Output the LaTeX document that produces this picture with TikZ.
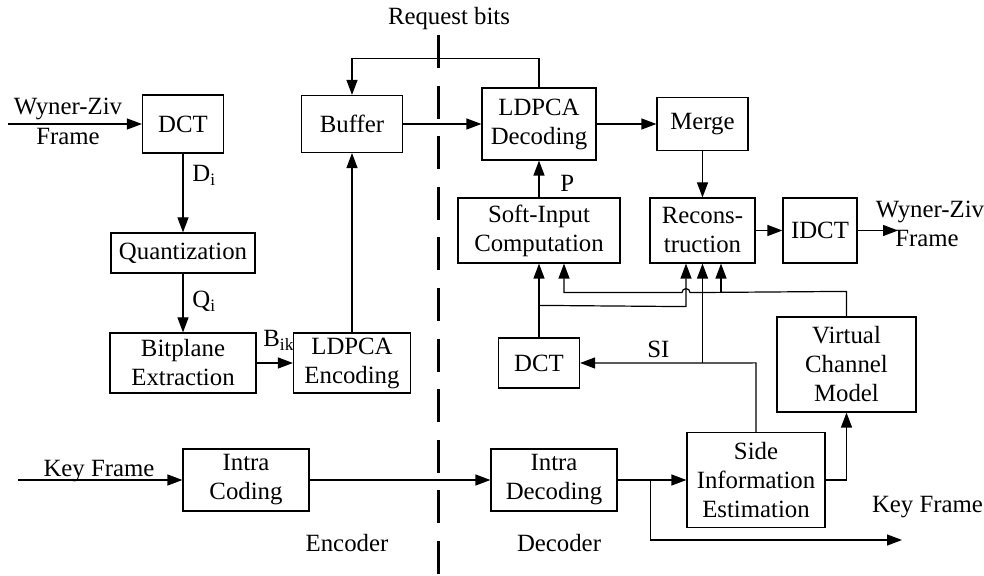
\documentclass[tikz,border=0pt]{standalone}
\usepackage{fontspec}
\setmainfont{Liberation Serif}
\usetikzlibrary{arrows.meta,calc}
\tikzset{
  blk/.style 2 args={draw,line width=0.6pt,align=center,inner sep=0pt,
    minimum width=#1*0.5pt,minimum height=#2*0.5pt},
  lbl/.style={anchor=base,inner sep=0pt},
  ln/.style={line width=0.6pt},
  arr/.style={line width=0.6pt,-{Triangle[length=7.5pt,width=5.5pt]}},
  divider/.style={line width=1.5pt,dash pattern=on 16.5pt off 8.8pt}
}
\begin{document}
\begin{tikzpicture}[x=0.5pt,y=-0.5pt,
  every node/.append style={font=\fontsize{12.4}{14.5}\selectfont}]
\useasboundingbox (0,0) rectangle (984,576);

% encoder blocks
\node[blk={81}{58}] (dct1) at (183,124) {DCT};
\node[blk={144}{40}] (quant) at (183,253) {Quantization};
\node[blk={146}{60}] (bitplane) at (183,363) {Bitplane\\Extraction};
\node[blk={117}{60}] (ldpcaenc) at (352,363) {LDPCA\\Encoding};
\node[blk={101}{57}] (buffer) at (352,124) {Buffer};
\node[blk={126}{62}] (intracod) at (246,480) {Intra\\Coding};

% decoder blocks
\node[blk={114}{72}] (ldpcadec) at (539,124) {LDPCA\\Decoding};
\node[blk={91}{53}] (merge) at (702.5,124) {Merge};
\node[blk={162}{65}] (softin) at (539,230.5) {Soft-Input\\Computation};
\node[blk={105}{65}] (recons) at (702.5,230.5) {Recons-\\truction};
\node[blk={74}{65}] (idct) at (820,230.5) {IDCT};
\node[blk={81}{50}] (dct2) at (539,363) {DCT};
\node[blk={139}{95}] (vcm) at (846.5,364.5) {Virtual\\Channel\\Model};
\node[blk={126}{62}] (intradec) at (554,480) {Intra\\Decoding};
\node[blk={138}{95}] (sie) at (756,480) {Side\\Information\\Estimation};

% labels
\node[lbl] (wz1a) at (68,115) {Wyner-Ziv};
\node[lbl] (wz1b) at (68,145) {Frame};
\node[lbl,anchor=base west] (di) at (192,182) {D\textsubscript{i}};
\node[lbl,anchor=base west] (qi) at (192,308) {Q\textsubscript{i}};
\node[lbl,anchor=base west] (bik) at (263,347) {B\textsubscript{ik}};
\node[lbl] (req) at (449,25) {Request bits};
\node[lbl,anchor=base west] (plbl) at (560,192) {P};
\node[lbl] (wz2a) at (930,218) {Wyner-Ziv};
\node[lbl] (wz2b) at (927,247) {Frame};
\node[lbl,anchor=base west] (si) at (647,358) {SI};
\node[lbl] (kf1) at (99,476) {Key Frame};
\node[lbl] (kf2) at (927.5,512) {Key Frame};
\node[lbl] (enc) at (347,551) {Encoder};
\node[lbl] (dec) at (559,551) {Decoder};

% divider
\coordinate (divtop) at (438,35);
\coordinate (divbot) at (438,576);
\draw[divider] (divtop) -- (divbot);

% encoder connectors
\coordinate (wzin) at (8,124);
\draw[arr] (wzin) -- (dct1.west);
\draw[arr] (dct1.south) -- (quant.north);
\draw[arr] (quant.south) -- (bitplane.north);
\draw[arr] (bitplane.east) -- (ldpcaenc.west);
\draw[arr] (ldpcaenc.north) -- (buffer.south);
\draw[arr] (buffer.east) -- (ldpcadec.west);
\draw[arr] (ldpcadec.north) -- ++(0,-29) -| (buffer.north);
\coordinate (kfin) at (18,480);
\draw[arr] (kfin) -- (intracod.west);
\draw[arr] (intracod.east) -- (intradec.west);

% decoder connectors
\draw[arr] (ldpcadec.east) -- (merge.west);
\draw[arr] (softin.north) -- (ldpcadec.south);
\draw[arr] (merge.south) -- (recons.north);
\draw[arr] (recons.east) -- (idct.west);
\coordinate (wzout) at (898,230.5);
\draw[arr] (idct.east) -- (wzout);
\draw[arr] (dct2.north) -- (softin.south);
\draw[arr] ($(dct2.north)+(0,-32)$) -- ($(recons.south)+(-16.5,43)$) -- ($(recons.south)+(-16.5,0)$);
\draw[arr] (vcm.north) -- ++(0,-25) -- ($(recons.south)+(-12.5,29)$)
  arc[start angle=0,end angle=-180,radius=4] -- ($(softin.south)+(25,29)$) -- ($(softin.south)+(25,0)$);
\draw[arr] ($(recons.south)+(18.5,29)$) -- ($(recons.south)+(18.5,0)$);
\draw[arr] (sie.north) -- ++(0,-69) -- (dct2.east);
\draw[arr] (recons.south |- dct2.east) -- (recons.south);
\draw[arr] (intradec.east) -- (sie.west);
\coordinate (kfout) at (902,540);
\draw[arr] ($(intradec.east)+(33,0)$) |- (kfout);
\draw[arr] (sie.east) -| (vcm.south);
\end{tikzpicture}
\end{document}
